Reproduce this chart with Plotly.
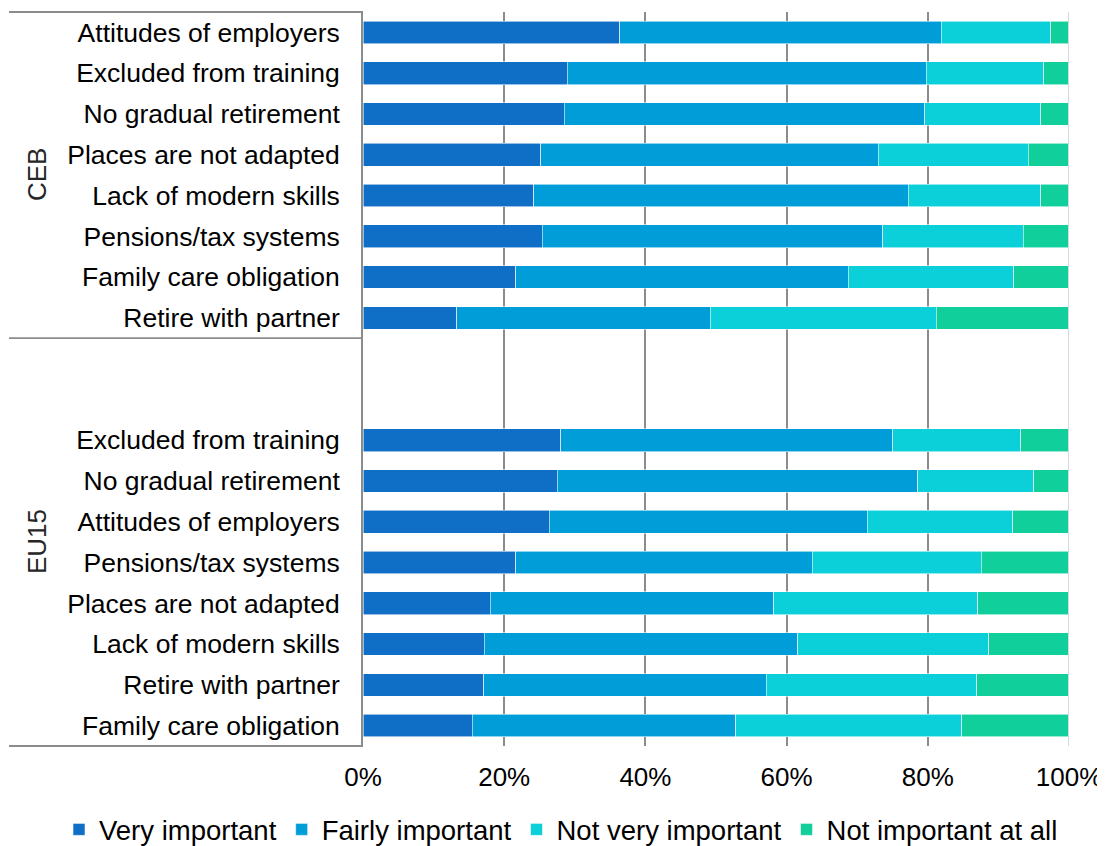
import plotly.graph_objects as go

# Reasons for not working longer, share of answers (%)
ceb_labels = ["Attitudes of employers", "Excluded from training", "No gradual retirement",
              "Places are not adapted", "Lack of modern skills", "Pensions/tax systems",
              "Family care obligation", "Retire with partner"]
ceb_very = [36.4, 28.9, 28.5, 25.2, 24.2, 25.4, 21.6, 13.3]
ceb_fairly = [45.5, 50.9, 51.1, 47.8, 53.0, 48.2, 47.1, 35.9]
ceb_notvery = [15.5, 16.6, 16.4, 21.2, 18.8, 19.9, 23.5, 32.0]
ceb_notatall = [2.6, 3.6, 4.0, 5.8, 4.0, 6.5, 7.8, 18.8]

eu_labels = ["Excluded from training", "No gradual retirement", "Attitudes of employers",
             "Pensions/tax systems", "Places are not adapted", "Lack of modern skills",
             "Retire with partner", "Family care obligation"]
eu_very = [28.0, 27.5, 26.4, 21.6, 18.0, 17.2, 17.1, 15.5]
eu_fairly = [47.0, 51.1, 45.0, 42.0, 40.2, 44.4, 40.0, 37.3]
eu_notvery = [18.2, 16.4, 20.6, 24.0, 28.9, 27.0, 29.8, 32.0]
eu_notatall = [6.8, 5.0, 8.0, 12.4, 12.9, 11.4, 13.1, 15.2]

groups = ["CEB", "EU15"]
series = ["Very important", "Fairly important", "Not very important", "Not important at all"]
colors = ["#0F6FC6", "#009DD9", "#0BD0D9", "#10CF9B"]
ticks = [0, 20, 40, 60, 80, 100]
n_blank = 2

# unique category keys (labels repeat between groups), plus blank spacer rows
ceb_keys = ["CEB|" + s for s in ceb_labels]
eu_keys = ["EU15|" + s for s in eu_labels]
blank_keys = [" " * (i + 1) for i in range(n_blank)]
all_keys = ceb_keys + blank_keys + eu_keys
all_text = ceb_labels + [""] * n_blank + eu_labels

ceb_vals = [ceb_very, ceb_fairly, ceb_notvery, ceb_notatall]
eu_vals = [eu_very, eu_fairly, eu_notvery, eu_notatall]

fig = go.Figure()
for name, color, cv, ev in zip(series, colors, ceb_vals, eu_vals):
    fig.add_trace(go.Bar(
        y=ceb_keys + eu_keys,
        x=cv + ev,
        name=name,
        orientation="h",
        marker=dict(color=color, line=dict(color="rgba(255,255,255,0.7)", width=0.8)),
    ))

# the page body adds an 8px margin, so the figure is drawn 8px smaller and offset
off = 8
W, H = 1105 - off, 846 - off
ml, mr, mt, mb = 363 - off, 36, 12 - off, 100
pw, ph = W - ml - mr, H - mt - mb
n_rows = len(all_keys)

fig.update_layout(
    width=W, height=H,
    barmode="stack",
    bargap=0.444,
    plot_bgcolor="white",
    paper_bgcolor="white",
    margin=dict(l=ml, r=mr, t=mt, b=mb, autoexpand=False),
    font=dict(family="Liberation Sans, Arial, sans-serif", size=26, color="#000000"),
    legend=dict(
        orientation="h",
        x=(59 - off - ml) / pw, xanchor="left",
        y=-(805 - off - (mt + ph)) / ph, yanchor="top",
        font=dict(size=27.5),
        traceorder="normal",
        itemwidth=30,
    ),
    xaxis=dict(
        range=[0, 100],
        tickvals=ticks,
        ticktext=[f"{t}%" for t in ticks],
        showgrid=True, gridcolor="#8c8c8c", gridwidth=1.8,
        zeroline=False,
        showline=False,
        ticks="outside", ticklen=8, tickcolor="rgba(0,0,0,0)",
        tickfont=dict(size=26),
        automargin=False,
    ),
    yaxis=dict(
        type="category",
        categoryorder="array",
        categoryarray=all_keys,
        tickvals=all_keys,
        ticktext=all_text,
        autorange="reversed",
        showline=True, linecolor="#8c8c8c", linewidth=1.8,
        showgrid=False,
        ticks="outside", ticklen=16, tickcolor="rgba(0,0,0,0)",
        tickfont=dict(size=26.5),
        automargin=False,
    ),
)

# lighter right-edge gridline at 100%
fig.add_shape(type="line", xref="x", yref="paper", x0=100, x1=100, y0=0, y1=1,
              line=dict(color="#d9d9d9", width=2), layer="above")

# group brackets on the left
x_left = (9 - off - ml) / pw
split = (n_rows - len(ceb_keys)) / n_rows
for yy in [0, split, 1]:
    fig.add_shape(type="line", xref="paper", yref="paper", x0=x_left, x1=0, y0=yy, y1=yy,
                  line=dict(color="#8c8c8c", width=1.8))

# group labels, rotated
ceb_center = 1 - (len(ceb_keys) / 2) / n_rows
eu_center = split / 2
label_x = (37 - off - ml) / pw
for g, yc in zip(groups, [ceb_center, eu_center]):
    fig.add_annotation(text=g, xref="paper", yref="paper", x=label_x, y=yc,
                       xanchor="center", yanchor="middle",
                       textangle=-90, showarrow=False,
                       font=dict(size=26, color="#262626"))

fig.write_html("out.html")
